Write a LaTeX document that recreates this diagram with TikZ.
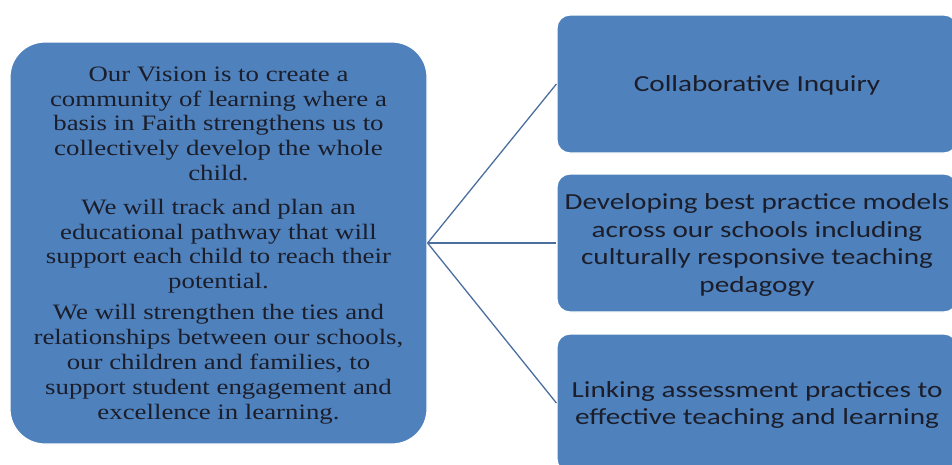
\documentclass[tikz,border=0pt]{standalone}
\usepackage{fontspec}
\newfontfamily\leftfont[FakeStretch=1.22]{Liberation Serif}
\newfontfamily\rightfont[FakeStretch=1.27]{Carlito}
\definecolor{boxblue}{HTML}{4F81BD}
\definecolor{linkblue}{HTML}{4A6E9E}
\definecolor{txt}{HTML}{1B1E2A}
\tikzset{
  visionbox/.style={draw=white, line width=1.2pt, fill=boxblue, rounded corners=35pt,
    minimum width=417pt, minimum height=402pt, align=center, text=txt,
    font=\leftfont\fontsize{22}{24.9}\selectfont, inner sep=0pt, text depth=0pt},
  goalbox/.style={draw=white, line width=1.2pt, fill=boxblue, rounded corners=13pt,
    minimum width=400pt, minimum height=138pt, align=center, text=txt,
    font=\rightfont\fontsize{23}{27.5}\selectfont, inner sep=0pt, text depth=0pt},
  link/.style={draw=linkblue, line width=1.3pt}
}
\begin{document}
\begin{tikzpicture}[x=1pt,y=-1pt]
\useasboundingbox (0,0) rectangle (952,464);
\begin{scope}
\clip (0,0) rectangle (952,464);
\node[visionbox] (vision) at (218.5,243) {%
Our Vision is to create a\\
community of learning where a\\
basis in Faith strengthens us to\\
collectively develop the whole\\
child.\\[8.5pt]
We will track and plan an\\
educational pathway that will\\
support each child to reach their\\
potential.\\[6pt]
We will strengthen the ties and\\
relationships between our schools,\\
our children and families, to\\
support student engagement and\\
excellence in learning.};
\node[goalbox] (g1) at (757,84) {Collaborative Inquiry};
\node[goalbox] (g2) at (757,243) {Developing best practice models\\
across our schools including\\
culturally responsive teaching\\
pedagogy};
\node[goalbox] (g3) at (757,403) {Linking assessment practices to\\
effective teaching and learning};
\coordinate (hub) at (vision.east);
\draw[link] (hub) -- (g1.west);
\draw[link] (hub) -- (g2.west);
\draw[link] (hub) -- (g3.west);
\end{scope}
\end{tikzpicture}
\end{document}
